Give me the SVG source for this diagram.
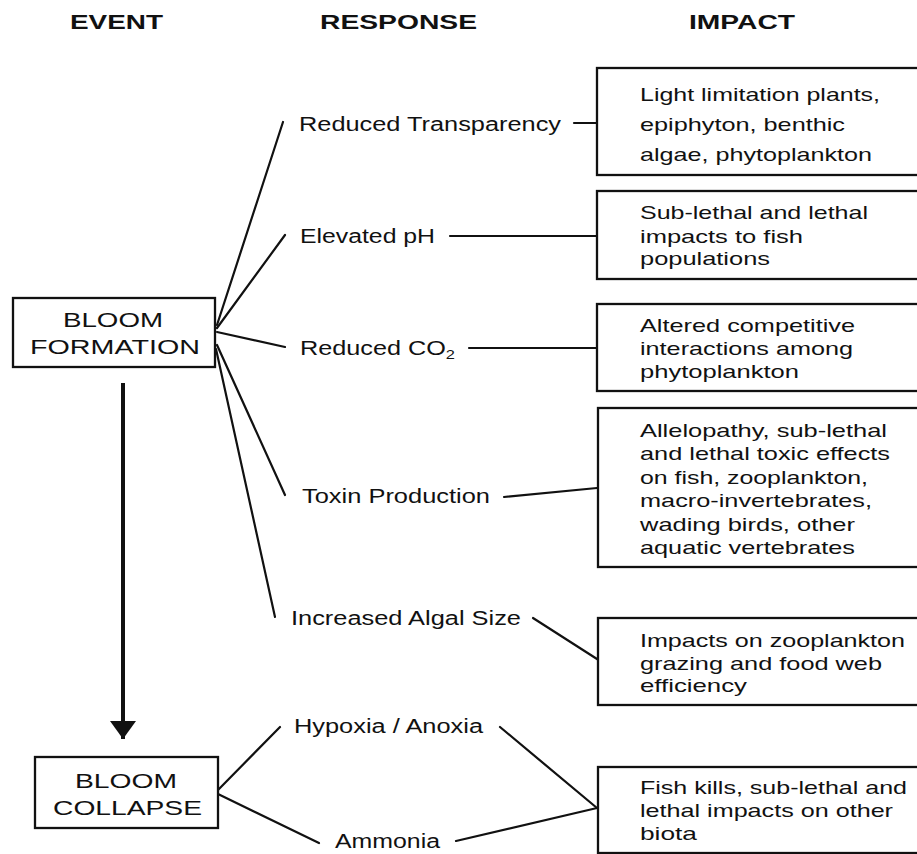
<svg xmlns="http://www.w3.org/2000/svg" width="917" height="854" viewBox="0 0 917 854">
<style>
text{font-family:"Liberation Sans",Arial,sans-serif;fill:#111}
.hd{font-size:21px;font-weight:bold}
.ev{font-size:21px}
.rs{font-size:20px}
.im{font-size:18.5px}
.box{fill:#fff;stroke:#111;stroke-width:2.3}
.cn line{stroke:#111;stroke-width:2.2;stroke-linecap:round}
</style>
<defs>
<marker id="ah" markerUnits="userSpaceOnUse" markerWidth="20" markerHeight="28" refX="18" refY="13" orient="auto">
<path d="M0,0 L18,13 L0,26 Z" fill="#111"/>
</marker>
</defs>
<rect width="917" height="854" fill="#fff"/>
<g id="headers">
<text class="hd" x="70" y="29" textLength="93" lengthAdjust="spacingAndGlyphs">EVENT</text>
<text class="hd" x="320" y="29" textLength="157" lengthAdjust="spacingAndGlyphs">RESPONSE</text>
<text class="hd" x="689" y="29" textLength="106" lengthAdjust="spacingAndGlyphs">IMPACT</text>
</g>
<g class="cn" id="connectors">
<line x1="217" y1="325" x2="283" y2="122"/>
<line x1="217" y1="328" x2="285" y2="235"/>
<line x1="217" y1="332" x2="285" y2="347"/>
<line x1="217" y1="345" x2="285" y2="495"/>
<line x1="216" y1="349" x2="275" y2="617"/>
<line x1="574" y1="123" x2="597" y2="123"/>
<line x1="450" y1="236" x2="597" y2="236"/>
<line x1="469" y1="348" x2="597" y2="348"/>
<line x1="504" y1="497" x2="597" y2="488"/>
<line x1="533" y1="618" x2="597" y2="659"/>
<line x1="500" y1="727" x2="597" y2="808"/>
<line x1="456" y1="841" x2="597" y2="808"/>
<line x1="218" y1="790" x2="280" y2="727"/>
<line x1="218" y1="794" x2="319" y2="843"/>
<line x1="123" y1="383" x2="123" y2="739" style="stroke-width:4;stroke-linecap:butt" marker-end="url(#ah)"/>
</g>
<g id="bloom-formation">
<rect class="box" x="13" y="298" width="202" height="69"/>
<text class="ev" x="63" y="327" textLength="100" lengthAdjust="spacingAndGlyphs">BLOOM</text>
<text class="ev" x="30" y="354" textLength="170" lengthAdjust="spacingAndGlyphs">FORMATION</text>
</g>
<g id="bloom-collapse">
<rect class="box" x="35" y="757" width="183" height="71"/>
<text class="ev" x="75" y="788" textLength="102" lengthAdjust="spacingAndGlyphs">BLOOM</text>
<text class="ev" x="53" y="815" textLength="149" lengthAdjust="spacingAndGlyphs">COLLAPSE</text>
</g>
<g id="resp-transparency"><text class="rs" x="299" y="131" textLength="262" lengthAdjust="spacingAndGlyphs">Reduced Transparency</text></g>
<g id="resp-ph"><text class="rs" x="300" y="243" textLength="135" lengthAdjust="spacingAndGlyphs">Elevated pH</text></g>
<g id="resp-co2"><text class="rs" x="300" y="355" textLength="155" lengthAdjust="spacingAndGlyphs">Reduced CO<tspan font-size="13" dy="4">2</tspan></text></g>
<g id="resp-toxin"><text class="rs" x="302" y="503" textLength="188" lengthAdjust="spacingAndGlyphs">Toxin Production</text></g>
<g id="resp-algal"><text class="rs" x="291" y="625" textLength="230" lengthAdjust="spacingAndGlyphs">Increased Algal Size</text></g>
<g id="resp-hypoxia"><text class="rs" x="294" y="733" textLength="189" lengthAdjust="spacingAndGlyphs">Hypoxia / Anoxia</text></g>
<g id="resp-ammonia"><text class="rs" x="335" y="848" textLength="105" lengthAdjust="spacingAndGlyphs">Ammonia</text></g>
<g id="impact-light">
<rect class="box" x="597" y="68" width="330" height="107"/>
<text class="im" x="640" y="101" textLength="240" lengthAdjust="spacingAndGlyphs">Light limitation plants,</text>
<text class="im" x="640" y="131" textLength="205" lengthAdjust="spacingAndGlyphs">epiphyton, benthic</text>
<text class="im" x="640" y="161" textLength="232" lengthAdjust="spacingAndGlyphs">algae, phytoplankton</text>
</g>
<g id="impact-fish">
<rect class="box" x="597" y="191" width="330" height="88"/>
<text class="im" x="640" y="219" textLength="228" lengthAdjust="spacingAndGlyphs">Sub-lethal and lethal</text>
<text class="im" x="640" y="243" textLength="163" lengthAdjust="spacingAndGlyphs">impacts to fish</text>
<text class="im" x="640" y="265" textLength="130" lengthAdjust="spacingAndGlyphs">populations</text>
</g>
<g id="impact-competitive">
<rect class="box" x="597" y="304" width="330" height="87"/>
<text class="im" x="640" y="332" textLength="215" lengthAdjust="spacingAndGlyphs">Altered competitive</text>
<text class="im" x="640" y="355" textLength="213" lengthAdjust="spacingAndGlyphs">interactions among</text>
<text class="im" x="640" y="378" textLength="159" lengthAdjust="spacingAndGlyphs">phytoplankton</text>
</g>
<g id="impact-allelopathy">
<rect class="box" x="598" y="408" width="330" height="159"/>
<text class="im" x="640" y="437" textLength="247" lengthAdjust="spacingAndGlyphs">Allelopathy, sub-lethal</text>
<text class="im" x="640" y="460" textLength="250" lengthAdjust="spacingAndGlyphs">and lethal toxic effects</text>
<text class="im" x="640" y="484" textLength="228" lengthAdjust="spacingAndGlyphs">on fish, zooplankton,</text>
<text class="im" x="640" y="507" textLength="232" lengthAdjust="spacingAndGlyphs">macro-invertebrates,</text>
<text class="im" x="640" y="531" textLength="215" lengthAdjust="spacingAndGlyphs">wading birds, other</text>
<text class="im" x="640" y="554" textLength="215" lengthAdjust="spacingAndGlyphs">aquatic vertebrates</text>
</g>
<g id="impact-grazing">
<rect class="box" x="598" y="618" width="330" height="87"/>
<text class="im" x="640" y="647" textLength="265" lengthAdjust="spacingAndGlyphs">Impacts on zooplankton</text>
<text class="im" x="640" y="670" textLength="242" lengthAdjust="spacingAndGlyphs">grazing and food web</text>
<text class="im" x="640" y="692" textLength="107" lengthAdjust="spacingAndGlyphs">efficiency</text>
</g>
<g id="impact-fishkills">
<rect class="box" x="598" y="767" width="330" height="86"/>
<text class="im" x="640" y="794" textLength="267" lengthAdjust="spacingAndGlyphs">Fish kills, sub-lethal and</text>
<text class="im" x="640" y="817" textLength="253" lengthAdjust="spacingAndGlyphs">lethal impacts on other</text>
<text class="im" x="640" y="840" textLength="57" lengthAdjust="spacingAndGlyphs">biota</text>
</g>
</svg>
